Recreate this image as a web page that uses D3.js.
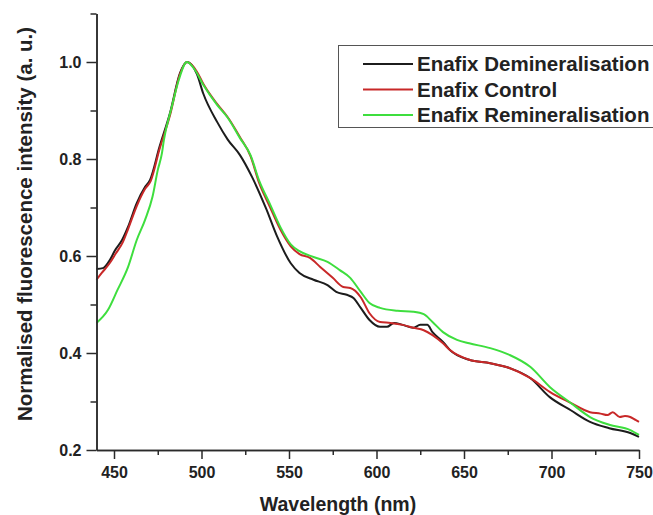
<!DOCTYPE html>
<html>
<head>
<meta charset="utf-8">
<script src="https://cdn.jsdelivr.net/npm/d3@7"></script>
<style>
  body { margin: 0; background: #fff; }
  svg text { font-family: "Liberation Sans", Arial, sans-serif; font-weight: bold; fill: #222; }
</style>
</head>
<body>
<div id="chart"></div>
<script>
// series data (wavelength in nm, normalised intensity)
var demin_wl = [440, 443.7, 447.7, 450.6, 454.6, 458, 463, 467.7, 470.6, 476, 482, 487.7, 491.7, 497.4, 501, 509, 515, 522, 529, 537, 543, 551, 556, 564, 572, 577, 583, 587, 591, 596, 602, 606, 610, 615, 621, 625, 629, 632, 638, 642, 653, 665, 676, 688, 699, 711, 722, 733, 745, 750];
var demin_val = [0.573, 0.575, 0.592, 0.612, 0.633, 0.66, 0.709, 0.742, 0.757, 0.825, 0.895, 0.977, 1.0, 0.975, 0.935, 0.876, 0.84, 0.808, 0.762, 0.697, 0.642, 0.585, 0.565, 0.551, 0.54, 0.526, 0.52, 0.513, 0.493, 0.468, 0.454, 0.454, 0.462, 0.458, 0.452, 0.458, 0.458, 0.443, 0.423, 0.406, 0.386, 0.379, 0.369, 0.348, 0.309, 0.282, 0.258, 0.245, 0.235, 0.227];

var control_wl = [440, 443, 447.7, 451, 455, 458, 463, 467.7, 471, 476, 482, 487.7, 491.7, 497.4, 501, 509, 515, 522, 528, 533, 539, 545, 551, 556, 562, 568, 575, 581, 585, 591, 596, 602, 608, 615, 621, 627, 632, 638, 642, 653, 665, 676, 688, 699, 711, 722, 728, 732, 735, 739, 742, 745, 748, 750];
var control_val = [0.551, 0.565, 0.586, 0.605, 0.628, 0.655, 0.703, 0.738, 0.755, 0.82, 0.89, 0.975, 1.0, 0.98, 0.955, 0.913, 0.886, 0.845, 0.806, 0.75, 0.702, 0.655, 0.62, 0.604, 0.596, 0.577, 0.555, 0.536, 0.534, 0.515, 0.482, 0.464, 0.462, 0.458, 0.452, 0.447, 0.437, 0.42, 0.406, 0.386, 0.379, 0.369, 0.348, 0.32, 0.297, 0.278, 0.275, 0.272, 0.278, 0.268, 0.27, 0.268, 0.262, 0.258];

var remin_wl = [440, 446.6, 452, 458, 463, 467.7, 472, 475, 477.4, 478.5, 483, 487, 491.7, 496, 501, 509, 515, 522, 528, 533, 539, 545, 551, 556, 564, 572, 579, 585, 591, 596, 602, 612, 621, 627, 632, 638, 646, 653, 665, 676, 688, 699, 711, 722, 733, 745, 750];
var remin_val = [0.462, 0.489, 0.53, 0.577, 0.633, 0.674, 0.722, 0.777, 0.812, 0.839, 0.907, 0.963, 1.0, 0.985, 0.953, 0.911, 0.885, 0.843, 0.808, 0.755, 0.708, 0.66, 0.624, 0.61, 0.598, 0.588, 0.571, 0.555, 0.526, 0.503, 0.493, 0.487, 0.485, 0.48, 0.464, 0.443, 0.427, 0.42, 0.41, 0.396, 0.371, 0.33, 0.297, 0.268, 0.252, 0.241, 0.231];

var series_names = ["Enafix Demineralisation", "Enafix Control", "Enafix Remineralisation"];
var x_ticks = [450, 500, 550, 600, 650, 700, 750];
var x_minor = [475, 525, 575, 625, 675, 725];
var y_ticks = [0.2, 0.4, 0.6, 0.8, 1.0];
var y_minor = [0.3, 0.5, 0.7, 0.9, 1.1];

// size settings
var tot_width = 653, tot_height = 515;
var margin = {top: 13.5, right: 14, bottom: 65, left: 96.5};
var width = tot_width - margin.left - margin.right,
    height = tot_height - margin.top - margin.bottom;

var colors = ["#1c1c1c", "#c82828", "#3ede3e"];

var series = [
  {name: series_names[0], wl: demin_wl, val: demin_val},
  {name: series_names[1], wl: control_wl, val: control_val},
  {name: series_names[2], wl: remin_wl, val: remin_val}
];

var svg = d3.select("#chart").append("svg")
    .attr("width", tot_width).attr("height", tot_height);
var g = svg.append("g")
    .attr("transform", "translate(" + margin.left + "," + margin.top + ")");

var x = d3.scaleLinear().domain([440, 750]).range([0, width]);
var y = d3.scaleLinear().domain([0.2, 1.1]).range([height, 0]);

var line = d3.line()
    .x(function(d) { return x(d[0]); })
    .y(function(d) { return y(d[1]); })
    .curve(d3.curveMonotoneX);

// curves
g.selectAll("path.curve")
  .data(series)
  .enter()
    .append("path")
      .attr("class", "curve")
      .attr("fill", "none")
      .attr("stroke", function(d, i) { return colors[i]; })
      .attr("stroke-width", 2)
      .attr("stroke-linejoin", "round")
      .attr("d", function(d) { return line(d3.zip(d.wl, d.val)); });

// AXES - minor ticks first, then major ticks with labels
g.append("g")
    .attr("transform", "translate(0," + height + ")")
    .call(d3.axisBottom(x).tickValues(x_minor).tickSize(5).tickSizeOuter(0).tickFormat(""));
g.append("g")
    .attr("class", "x-axis")
    .attr("transform", "translate(0," + height + ")")
    .call(d3.axisBottom(x).tickValues(x_ticks).tickSize(9).tickPadding(8).tickSizeOuter(0));

g.append("g")
    .call(d3.axisLeft(y).tickValues(y_minor).tickSize(6).tickSizeOuter(0).tickFormat(""));
g.append("g")
    .attr("class", "y-axis")
    .call(d3.axisLeft(y).tickValues(y_ticks).tickSize(10).tickPadding(5).tickSizeOuter(0)
      .tickFormat(d3.format(".1f")));

g.selectAll(".domain, .tick line").attr("stroke", "#2a2a2a").attr("stroke-width", 1.5);
g.selectAll(".tick text")
    .style("font-family", "'Liberation Sans', Arial, sans-serif")
    .style("font-weight", "bold")
    .style("font-size", "16px")
    .attr("fill", "#222");

// axis titles
svg.append("text")
    .attr("x", 338).attr("y", 511)
    .attr("text-anchor", "middle")
    .style("font-size", "19.5px")
    .text("Wavelength (nm)");

svg.append("text")
    .attr("transform", "translate(32,224) rotate(-90)")
    .attr("text-anchor", "middle")
    .style("font-size", "20.5px")
    .text("Normalised fluorescence intensity (a. u.)");

// LEGEND
var legend = svg.append("g").attr("class", "legend");
legend.append("rect")
    .attr("x", 338.5).attr("y", 45.5)
    .attr("width", 340).attr("height", 82)
    .attr("fill", "#fff")
    .attr("stroke", "#555").attr("stroke-width", 1);

var legend_items = legend.selectAll("g.legend-item")
  .data(series)
  .enter()
    .append("g")
      .attr("class", "legend-item")
      .attr("transform", function(d, i) { return "translate(0," + (64 + i * 25.5) + ")"; });

legend_items.append("line")
    .attr("x1", 363).attr("x2", 413)
    .attr("stroke", function(d, i) { return colors[i]; })
    .attr("stroke-width", 2);

legend_items.append("text")
    .attr("x", 417).attr("dy", "0.35em")
    .style("font-size", "20.5px")
    .text(function(d) { return d.name; });
</script>
</body>
</html>
